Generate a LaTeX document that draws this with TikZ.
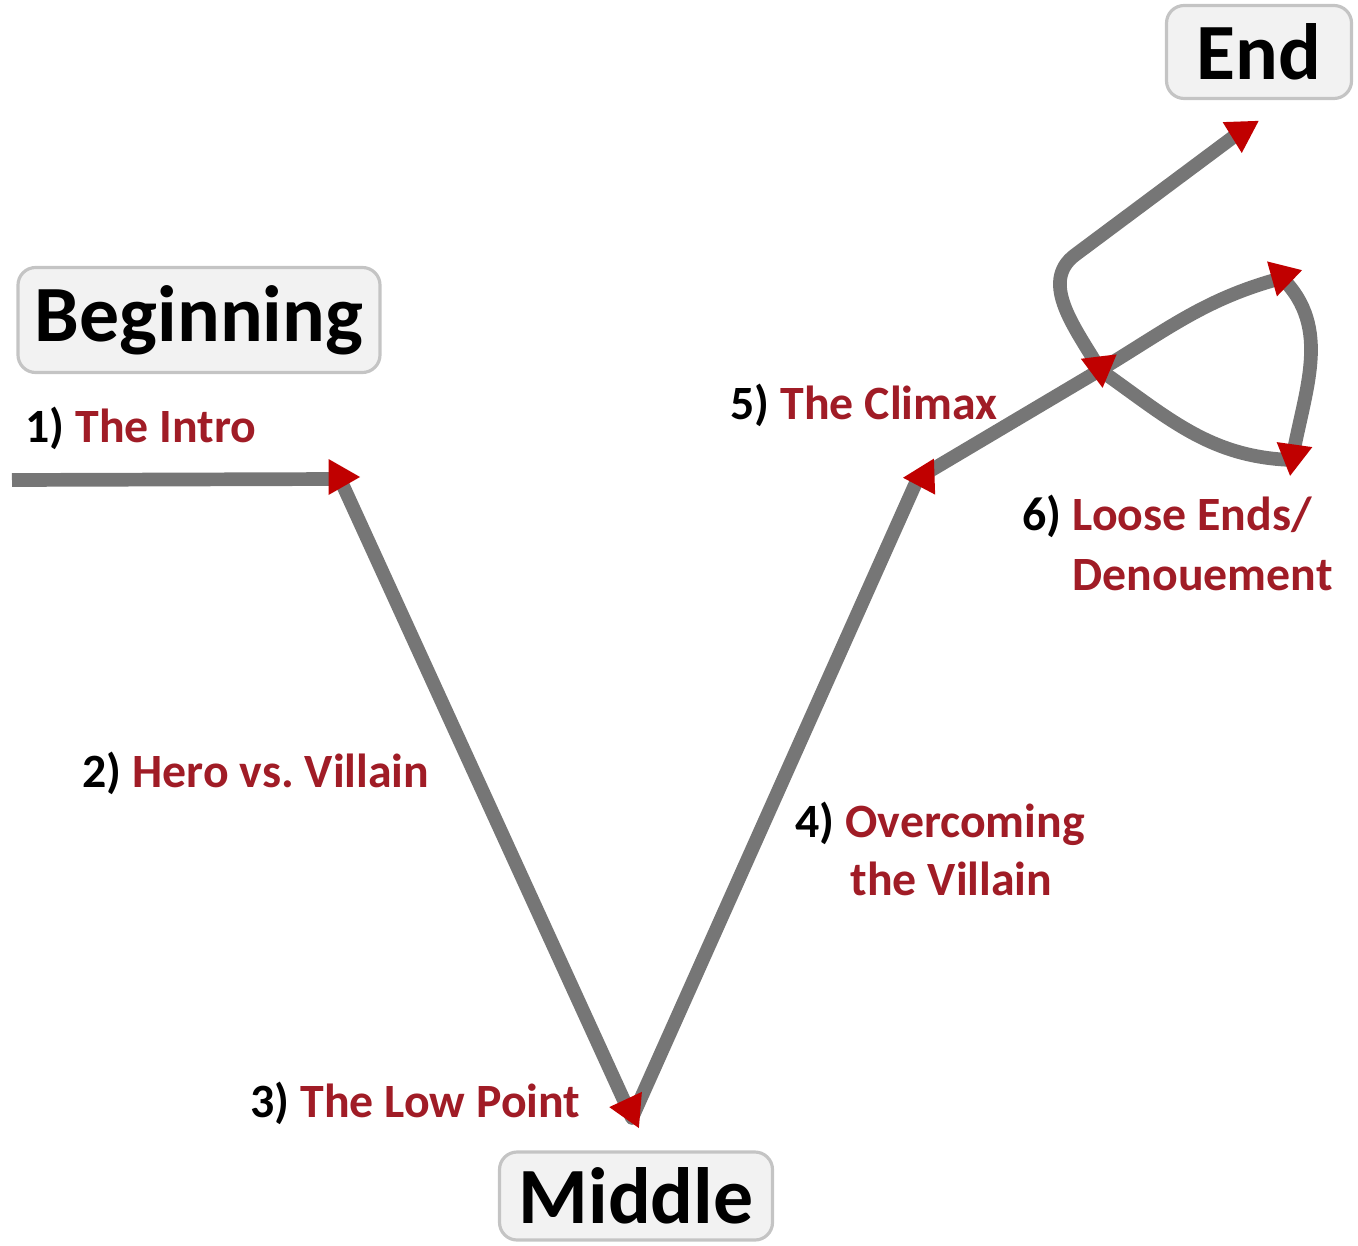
\documentclass[tikz,border=0pt]{standalone}
\usepackage{fontspec}
\setmainfont{Carlito}
\definecolor{stagered}{RGB}{160,28,38}
\definecolor{tipred}{RGB}{192,0,0}
\definecolor{trackgray}{RGB}{118,118,118}
\definecolor{boxfill}{RGB}{242,242,242}
\definecolor{boxline}{RGB}{196,196,196}
\tikzset{
  track/.style={draw=trackgray, line width=3.9pt, line join=round},
  redtip/.style={fill=tipred},
  part/.style={draw=boxline, fill=boxfill, rounded corners=5pt, line width=0.9pt,
    inner sep=0pt, font=\fontsize{22.7}{27}\selectfont\bfseries},
  stage/.style={anchor=base west, inner sep=0pt, text=stagered,
    font=\fontsize{13.6}{16.5}\selectfont\bfseries}
}
\begin{document}
\begin{tikzpicture}
\useasboundingbox (0,0) rectangle (13.58,-12.45);

%punti del percorso
\coordinate (start) at (0.12,-4.80);
\coordinate (intro) at (3.40,-4.79);
\coordinate (low) at (6.32,-11.18);
\coordinate (climax) at (9.18,-4.78);
\coordinate (cross) at (11.00,-3.70);
\coordinate (topr) at (12.82,-2.78);
\coordinate (botr) at (12.92,-4.60);
\coordinate (bend) at (10.75,-2.55);
\coordinate (endtip) at (12.40,-1.32);

%percorso
\draw[track] (start) -- (intro) -- (low) -- (climax) -- (cross);
\draw[track] (cross) to[out=31,in=195] (topr);
\draw[track] (topr) to[out=-45,in=80] (botr);
\draw[track] (botr) to[out=178,in=-35] (cross);
\draw[track] (cross) to[out=120,in=217] (bend) -- (endtip);

%triangoli
\fill[redtip, shift={(3.39,-4.77)}, rotate=0] (0.21,0) -- (-0.105,0.18) -- (-0.105,-0.18) -- cycle;
\fill[redtip, shift={(6.30,-11.09)}, rotate=-65] (0.21,0) -- (-0.105,0.18) -- (-0.105,-0.18) -- cycle;
\fill[redtip, shift={(9.24,-4.77)}, rotate=182] (0.21,0) -- (-0.105,0.18) -- (-0.105,-0.18) -- cycle;
\fill[redtip, shift={(11.00,-3.67)}, rotate=-83] (0.21,0) -- (-0.105,0.18) -- (-0.105,-0.18) -- cycle;
\fill[redtip, shift={(12.82,-2.76)}, rotate=-104] (0.21,0) -- (-0.105,0.18) -- (-0.105,-0.18) -- cycle;
\fill[redtip, shift={(12.93,-4.55)}, rotate=-98] (0.21,0) -- (-0.105,0.18) -- (-0.105,-0.18) -- cycle;
\fill[redtip, shift={(12.41,-1.32)}, rotate=-88] (0.21,0) -- (-0.105,0.18) -- (-0.105,-0.18) -- cycle;

%riquadri
\node[part, minimum width=3.62cm, minimum height=1.05cm] (beginning) at (1.99,-3.20) {Beginning};
\node[part, minimum width=1.85cm, minimum height=0.93cm] (end) at (12.59,-0.52) {End};
\node[part, minimum width=2.73cm, minimum height=0.88cm] (middle) at (6.36,-11.96) {Middle};

%etichette
\node[stage] (introlabel) at (0.25,-4.43) {\textcolor{black}{1)} The Intro};
\node[stage] (herolabel) at (0.82,-7.87) {\textcolor{black}{2)} Hero vs.\ Villain};
\node[stage] (lowlabel) at (2.50,-11.17) {\textcolor{black}{3)} The Low Point};
\node[stage] (overlabel) at (7.95,-8.37) {\textcolor{black}{4)} Overcoming};
\node[stage] (overlabelb) at (8.50,-8.95) {the Villain};
\node[stage] (climaxlabel) at (7.30,-4.20) {\textcolor{black}{5)} The Climax};
\node[stage] (looselabel) at (10.22,-5.30) {\textcolor{black}{6)} Loose Ends/};
\node[stage] (looselabelb) at (10.72,-5.90) {Denouement};

\end{tikzpicture}
\end{document}
